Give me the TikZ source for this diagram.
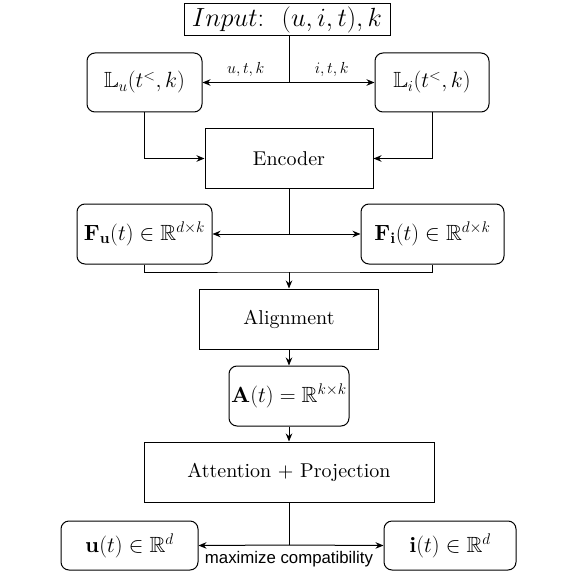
\RequirePackage{fix-cm}
\documentclass[tikz,border=0pt]{standalone}
\usepackage{amsmath,amssymb}
\DeclareFontFamily{U}{msb}{}
\DeclareFontShape{U}{msb}{m}{n}{<-6> msbm5 <6-8> msbm7 <8-> msbm10}{}
\usepackage{fontspec}
\setmainfont{lmroman10-regular.otf}[BoldFont=lmroman10-bold.otf,ItalicFont=lmroman10-italic.otf]
\newfontfamily\labelsans{Liberation Sans}
\usetikzlibrary{arrows.meta}
\newcommand{\bigtxt}{\fontsize{20}{24}\selectfont}
\newcommand{\mathtxt}{\fontsize{22}{26}\selectfont}
\begin{document}
\begin{tikzpicture}[x=1pt,y=-1pt,
  every node/.style={inner sep=0pt},
  box/.style={draw, line width=1pt, font=\bigtxt},
  rbox/.style={box, rounded corners=8pt, font=\mathtxt},
  conn/.style={line width=1pt},
  arr/.style={conn, -{Stealth[length=8pt,width=6.5pt]}},
  small/.style={font=\fontsize{16}{18}\selectfont}
]
\useasboundingbox (0,0) rectangle (561,580);
\node[box, minimum width=206, minimum height=32, font=\fontsize{26.3}{30}\selectfont] (in) at (287,20) {$Input{:}\ \ (u,i,t),k$};
\node[rbox, minimum width=115, minimum height=59] (Lu) at (144.5,82.5) {$\mathbb{L}_u(t^{<},k)$};
\node[rbox, minimum width=114, minimum height=59] (Li) at (432,82.5) {$\mathbb{L}_i(t^{<},k)$};
\node[box, minimum width=168, minimum height=59] (enc) at (289,158.5) {Encoder};
\node[rbox, minimum width=135, minimum height=60] (Fu) at (144.5,234) {$\mathbf{F}_\mathbf{u}(t)\in\mathbb{R}^{d\times k}$};
\node[rbox, minimum width=143, minimum height=60] (Fi) at (432.5,234) {$\mathbf{F}_\mathbf{i}(t)\in\mathbb{R}^{d\times k}$};
\node[box, minimum width=179, minimum height=60] (al) at (289,319) {Alignment};
\node[rbox, minimum width=120, minimum height=60] (A) at (289,396) {$\mathbf{A}(t)=\mathbb{R}^{k\times k}$};
\node[box, minimum width=290, minimum height=60] (att) at (289,472) {Attention + Projection};
\node[rbox, minimum width=137, minimum height=49] (u) at (129.5,545.5) {$\mathbf{u}(t)\in\mathbb{R}^{d}$};
\node[rbox, minimum width=132, minimum height=49] (i) at (450,545.5) {$\mathbf{i}(t)\in\mathbb{R}^{d}$};

\coordinate (j0) at (289,36);
\coordinate (j1) at (289,82.5);
\draw[conn] (j0) -- (j1);
\draw[arr] (j1) -- (Lu.east) node[midway, above=5pt, small] {$u,t,k$};
\draw[arr] (j1) -- (Li.west) node[midway, above=5pt, small] {$i,t,k$};
\draw[arr] (Lu.south) |- (enc.west);
\draw[arr] (Li.south) |- (enc.east);

\coordinate (j2) at (289,234);
\draw[conn] (enc.south) -- (j2);
\draw[arr] (j2) -- (Fu.east);
\draw[arr] (j2) -- (Fi.west);

\coordinate (j3) at (289,272);
\draw[conn] (Fu.south) |- (j3) -| (Fi.south);
\draw[arr] (j3) -- (al.north);
\draw[arr] (al.south) -- (A.north);
\draw[arr] (A.south) -- (att.north);

\coordinate (j4) at (289,545);
\draw[conn] (att.south) -- (j4);
\draw[arr] (j4) -- (u.east);
\draw[arr] (j4) -- (i.west);
\node[font=\labelsans\fontsize{16.8}{19}\selectfont, anchor=north] (mc) at ([yshift=-6pt]j4) {maximize compatibility};
\end{tikzpicture}
\end{document}
